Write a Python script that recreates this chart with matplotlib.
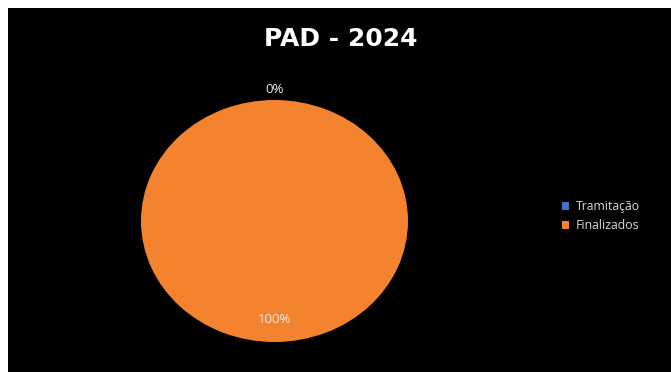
import matplotlib
matplotlib.use("Agg")
import matplotlib.pyplot as plt
import numpy as np
from matplotlib.patches import Rectangle

categories = ["Tramitação", "Finalizados"]
values = [0, 100]
colors = ["#4472C4", "#F3832F"]
label_dist = [1.1, 0.8]

W, H = 671, 372
fig = plt.figure(figsize=(W / 100, H / 100), dpi=100, facecolor="black")

# white strip along the top and left edges
fig.patches.append(Rectangle((0, 1 - 8 / H), 1, 8 / H, transform=fig.transFigure,
                             facecolor="white", edgecolor="none", zorder=-1))
fig.patches.append(Rectangle((0, 0), 8 / W, 1, transform=fig.transFigure,
                             facecolor="white", edgecolor="none", zorder=-1))

ax = fig.add_axes([141 / W, 30 / H, 267 / W, 242 / H])
ax.set_facecolor("none")
wedges, _ = ax.pie(values, colors=colors, startangle=90, counterclock=False,
                   normalize=True, wedgeprops=dict(linewidth=0))
ax.set_aspect("auto")
ax.set_xlim(-1, 1)
ax.set_ylim(-1, 1)
ax.axis("off")

total = sum(values)
for w, v, d in zip(wedges, values, label_dist):
    mid = np.deg2rad((w.theta1 + w.theta2) / 2)
    ax.text(d * np.cos(mid), d * np.sin(mid) - 0.015, f"{v / total * 100:.0f}%",
            ha="center", va="center", color="#EDEDED", fontsize=9.5,
            family="Open Sans", clip_on=False)

fig.text(341 / W, 1 - 39 / H, "PAD - 2024", ha="center", va="center",
         color="white", fontsize=18, fontweight="bold", family="DejaVu Sans")

leg = fig.legend(wedges, categories, loc="center left",
                 bbox_to_anchor=(556 / W, 1 - 216 / H), frameon=False,
                 prop=dict(family="Open Sans", size=8.8),
                 labelcolor="#D9D9D9", handlelength=0.6, handleheight=0.6,
                 handletextpad=0.5, labelspacing=0.5, borderpad=0)

fig.savefig("out.png", dpi=100, facecolor="black")
